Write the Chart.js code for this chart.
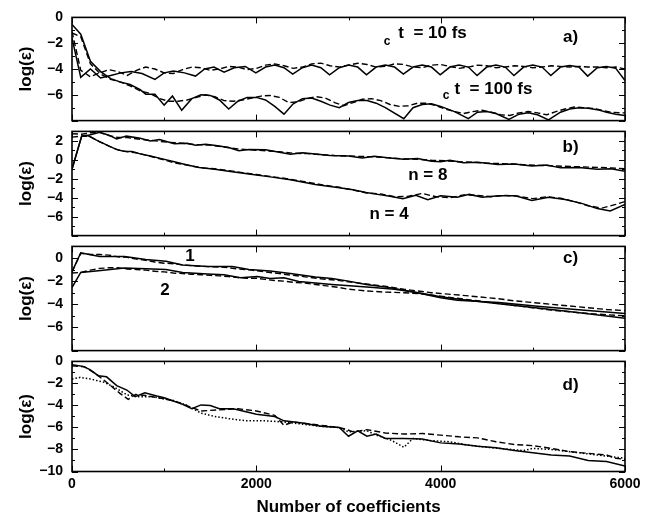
<!DOCTYPE html>
<html>
<head>
<meta charset="utf-8">
<script src="https://cdn.jsdelivr.net/npm/chart.js@4.4.1/dist/chart.umd.min.js"></script>
<style>
  html, body { margin: 0; padding: 0; background: #fff; }
  #wrap { position: relative; width: 650px; height: 518px; overflow: hidden; }
  canvas { position: absolute; left: 0; }
</style>
</head>
<body>
<div id="wrap">
  <canvas id="pa"></canvas>
  <canvas id="pb"></canvas>
  <canvas id="pc"></canvas>
  <canvas id="pd"></canvas>
</div>
<script>
// x axis
const xTicks = [0, 2000, 4000, 6000]

// y tick labels per panel
const yTicksA = [0, -2, -4, -6]
const yTicksB = [2, 0, -2, -4, -6]
const yTicksC = [0, -2, -4, -6]
const yTicksD = [0, -2, -4, -6, -8, -10]

// panel a) : ωc t = 10 fs (upper pair) and 100 fs (lower pair)
const a10Solid = [[0,-1.6],[95,-4.65],[200,-4.0],[310,-4.7],[420,-4.5],[530,-4.3],[640,-4.2],[760,-4.35],[900,-4.8],[1000,-4.3],[1100,-4.15],[1220,-4.3],[1340,-4.55],[1440,-4.0],[1540,-3.85],[1650,-4.25],[1760,-3.9],[1880,-3.8],[1995,-4.3],[2100,-3.85],[2200,-3.7],[2300,-3.9],[2395,-4.4],[2500,-3.9],[2600,-3.7],[2700,-3.9],[2795,-4.45],[2900,-3.9],[3000,-3.7],[3100,-3.85],[3195,-4.45],[3300,-3.85],[3400,-3.7],[3500,-3.85],[3595,-4.4],[3700,-3.85],[3800,-3.7],[3900,-3.85],[3995,-4.45],[4100,-3.85],[4200,-3.7],[4300,-3.85],[4395,-4.5],[4500,-3.85],[4600,-3.7],[4700,-3.85],[4795,-4.5],[4900,-3.85],[5000,-3.7],[5100,-3.85],[5195,-4.5],[5300,-3.85],[5400,-3.72],[5500,-3.85],[5595,-4.55],[5700,-3.9],[5800,-3.8],[5900,-3.95],[6000,-4.9]]
const a10Dash = [[0,-1.1],[95,-4.1],[200,-4.6],[300,-4.3],[400,-4.05],[500,-4.2],[600,-4.5],[700,-4.1],[800,-3.85],[900,-4.0],[1000,-4.3],[1100,-4.35],[1200,-4.05],[1300,-3.85],[1400,-3.9],[1500,-4.1],[1600,-4.0],[1700,-3.8],[1800,-3.85],[1900,-4.05],[2000,-3.95],[2100,-3.7],[2200,-3.6],[2300,-3.75],[2400,-3.95],[2500,-3.85],[2600,-3.6],[2700,-3.55],[2800,-3.75],[2900,-3.85],[3000,-3.7],[3100,-3.55],[3200,-3.65],[3300,-3.85],[3400,-3.8],[3500,-3.6],[3600,-3.65],[3700,-3.85],[3800,-3.9],[3900,-3.7],[4000,-3.65],[4100,-3.8],[4200,-3.95],[4300,-3.85],[4400,-3.7],[4500,-3.75],[4600,-3.9],[4700,-3.85],[4800,-3.75],[4900,-3.8],[5000,-3.9],[5100,-3.85],[5200,-3.75],[5300,-3.8],[5400,-3.85],[5500,-3.8],[5600,-3.85],[5700,-3.85],[5800,-3.9],[5900,-3.85],[6000,-4.0]]
const a100Solid = [[0,-0.55],[95,-1.3],[200,-3.4],[310,-4.2],[420,-4.75],[520,-5.0],[630,-5.2],[740,-5.6],[800,-5.95],[900,-5.95],[1000,-6.8],[1090,-6.1],[1190,-7.2],[1300,-6.3],[1400,-6.0],[1500,-6.05],[1600,-6.4],[1700,-7.1],[1800,-6.5],[1900,-6.2],[2000,-6.2],[2100,-6.4],[2200,-6.9],[2300,-7.5],[2400,-6.7],[2500,-6.3],[2600,-6.25],[2700,-6.5],[2800,-6.8],[2900,-7.0],[3000,-6.6],[3100,-6.45],[3200,-6.45],[3300,-6.65],[3400,-7.0],[3600,-7.85],[3700,-7.0],[3800,-6.75],[3900,-6.7],[4000,-6.9],[4150,-7.3],[4300,-7.85],[4400,-7.35],[4500,-7.3],[4600,-7.45],[4740,-7.9],[4850,-7.5],[4950,-7.4],[5050,-7.55],[5170,-7.95],[5300,-7.35],[5400,-7.1],[5500,-7.0],[5600,-7.05],[5700,-7.15],[5800,-7.35],[5900,-7.5],[6000,-7.6]]
const a100Dash = [[0,-1.2],[95,-1.5],[200,-3.6],[310,-4.4],[420,-4.8],[520,-5.0],[630,-5.3],[740,-5.7],[850,-5.9],[950,-6.3],[1050,-6.5],[1150,-6.5],[1250,-6.4],[1350,-6.2],[1450,-6.0],[1550,-6.15],[1650,-6.45],[1750,-6.5],[1850,-6.4],[1950,-6.25],[2050,-6.1],[2150,-6.05],[2250,-6.2],[2350,-6.6],[2450,-6.55],[2550,-6.3],[2650,-6.15],[2750,-6.25],[2850,-6.6],[2950,-6.85],[3050,-6.6],[3150,-6.35],[3250,-6.3],[3350,-6.45],[3450,-6.75],[3550,-6.9],[3650,-6.85],[3750,-6.65],[3850,-6.65],[3950,-6.85],[4050,-7.1],[4150,-7.3],[4250,-7.45],[4350,-7.3],[4450,-7.2],[4550,-7.35],[4650,-7.55],[4750,-7.6],[4850,-7.4],[4950,-7.3],[5050,-7.4],[5150,-7.55],[5250,-7.3],[5350,-7.1],[5450,-6.95],[5550,-7.0],[5650,-7.05],[5750,-7.2],[5850,-7.35],[5950,-7.4],[6000,-7.4]]

// panel b) : n = 8 and n = 4
const b8Solid = [[0,-1.0],[105,2.5],[160,2.55],[300,2.9],[400,2.6],[484,2.2],[590,2.5],[740,2.28],[850,2.0],[950,2.15],[1110,1.7],[1250,1.75],[1340,1.55],[1450,1.65],[1560,1.5],[1700,1.3],[1810,0.95],[1920,1.1],[2100,1.05],[2250,0.8],[2370,0.6],[2500,0.75],[2640,0.62],[2800,0.45],[3000,0.4],[3150,0.2],[3280,0.38],[3450,0.2],[3600,0.05],[3750,0.15],[3900,-0.15],[4000,-0.2],[4100,-0.05],[4250,-0.3],[4400,-0.25],[4620,-0.5],[4800,-0.45],[4990,-0.65],[5150,-0.55],[5300,-0.85],[5500,-0.8],[5700,-1.0],[5850,-0.95],[6000,-1.2]]
const b8Dash = [[0,2.75],[105,2.7],[200,2.85],[300,2.9],[400,2.55],[500,2.35],[600,2.35],[750,2.15],[900,2.0],[1050,1.85],[1200,1.75],[1350,1.6],[1500,1.55],[1650,1.35],[1800,1.15],[1950,1.05],[2100,0.95],[2250,0.85],[2400,0.7],[2550,0.65],[2700,0.55],[2850,0.45],[3000,0.4],[3150,0.35],[3300,0.3],[3450,0.2],[3600,0.1],[3750,0.05],[3900,-0.05],[4050,-0.1],[4200,-0.2],[4350,-0.25],[4500,-0.35],[4650,-0.4],[4800,-0.45],[4950,-0.55],[5100,-0.6],[5250,-0.65],[5400,-0.7],[5550,-0.75],[5700,-0.8],[5850,-0.85],[6000,-0.95]]
const b4Solid = [[0,-1.0],[105,2.5],[160,2.6],[260,2.1],[380,1.55],[480,1.1],[560,0.9],[650,0.88],[750,0.6],[850,0.4],[980,0.1],[1110,-0.2],[1250,-0.55],[1380,-0.8],[1550,-1.0],[1700,-1.2],[1920,-1.5],[2150,-1.8],[2370,-2.1],[2640,-2.6],[2900,-2.95],[3050,-3.15],[3190,-3.45],[3350,-3.7],[3450,-3.85],[3590,-4.1],[3730,-3.75],[3860,-4.2],[4000,-3.8],[4180,-3.95],[4310,-3.65],[4450,-3.95],[4630,-3.8],[4810,-3.8],[4990,-4.3],[5170,-3.95],[5350,-4.2],[5530,-4.6],[5700,-5.15],[5840,-5.4],[6000,-4.7]]
const b4Dash = [[0,2.4],[105,2.5],[200,2.45],[300,1.9],[400,1.45],[500,1.05],[600,0.85],[700,0.75],[800,0.5],[900,0.25],[1000,0.0],[1100,-0.3],[1250,-0.55],[1400,-0.85],[1550,-0.95],[1700,-1.15],[1850,-1.35],[2000,-1.55],[2150,-1.75],[2300,-1.95],[2450,-2.2],[2600,-2.45],[2750,-2.7],[2900,-2.9],[3050,-3.2],[3200,-3.5],[3350,-3.6],[3500,-3.9],[3650,-3.85],[3800,-3.55],[3950,-3.9],[4100,-4.0],[4250,-3.7],[4400,-3.75],[4550,-3.9],[4700,-3.75],[4850,-3.85],[5000,-4.1],[5150,-3.9],[5300,-4.05],[5450,-4.4],[5600,-4.85],[5750,-5.1],[5900,-4.7],[6000,-4.4]]

// panel c) : curves 1 and 2
const c1Solid = [[0,-1.2],[95,0.45],[160,0.35],[300,0.12],[570,0.12],[800,-0.14],[1020,-0.29],[1200,-0.61],[1470,-0.74],[1740,-0.74],[1920,-1.0],[2150,-1.13],[2370,-1.34],[2640,-1.65],[2820,-1.78],[3000,-2.0],[3190,-2.3],[3450,-2.56],[3720,-2.96],[4000,-3.35],[4180,-3.55],[4630,-3.95],[5080,-4.35],[5530,-4.75],[6000,-5.2]]
const c1Dash = [[0,-1.2],[95,0.4],[200,0.3],[300,0.3],[400,0.25],[500,0.1],[600,0.05],[700,-0.1],[800,-0.2],[900,-0.35],[1000,-0.45],[1100,-0.5],[1200,-0.6],[1350,-0.7],[1500,-0.75],[1650,-0.8],[1800,-0.95],[1950,-1.05],[2100,-1.2],[2250,-1.35],[2400,-1.5],[2550,-1.65],[2700,-1.8],[2850,-1.9],[3000,-2.05],[3150,-2.2],[3300,-2.35],[3450,-2.5],[3600,-2.7],[3750,-2.85],[3900,-3.0],[4050,-3.1],[4200,-3.2],[4400,-3.35],[4600,-3.5],[4800,-3.7],[5000,-3.85],[5200,-4.0],[5400,-4.15],[5600,-4.3],[5800,-4.45],[6000,-4.55]]
const c2Solid = [[0,-2.55],[95,-1.25],[260,-1.13],[570,-0.87],[800,-0.92],[1020,-1.0],[1200,-1.26],[1470,-1.39],[1650,-1.45],[1830,-1.7],[2010,-1.6],[2150,-1.78],[2300,-1.7],[2460,-2.04],[2640,-2.17],[2820,-2.3],[3050,-2.43],[3270,-2.56],[3500,-2.7],[3720,-2.96],[4000,-3.43],[4180,-3.65],[4630,-3.85],[5080,-4.2],[5530,-4.5],[6000,-4.8]]
const c2Dash = [[0,-1.3],[95,-1.25],[200,-1.05],[300,-0.9],[400,-0.85],[500,-0.85],[600,-0.95],[700,-1.0],[800,-1.05],[900,-1.15],[1000,-1.2],[1100,-1.3],[1200,-1.35],[1300,-1.4],[1400,-1.45],[1500,-1.5],[1600,-1.55],[1700,-1.6],[1800,-1.7],[1900,-1.75],[2000,-1.75],[2100,-1.85],[2200,-1.95],[2300,-2.0],[2400,-2.1],[2500,-2.15],[2600,-2.25],[2700,-2.35],[2800,-2.45],[2900,-2.55],[3000,-2.7],[3200,-2.85],[3400,-2.95],[3600,-3.0],[3800,-3.1],[4000,-3.3],[4200,-3.5],[4400,-3.7],[4600,-3.9],[4800,-4.1],[5000,-4.3],[5200,-4.5],[5400,-4.65],[5600,-4.8],[5800,-4.9],[6000,-5.0]]

// panel d) : solid, dashed, dotted
const dSolid = [[0,-0.3],[120,-0.45],[195,-0.75],[285,-1.3],[375,-1.4],[485,-2.2],[595,-2.6],[685,-3.2],[790,-2.85],[920,-3.15],[1000,-3.3],[1100,-3.6],[1200,-3.9],[1300,-4.3],[1400,-3.95],[1500,-4.0],[1600,-4.3],[1750,-4.3],[1900,-4.6],[2000,-4.8],[2200,-5.0],[2300,-5.4],[2500,-5.6],[2700,-5.9],[2900,-6.0],[3000,-6.8],[3100,-6.3],[3200,-6.8],[3300,-6.6],[3400,-7.0],[3600,-7.0],[3800,-7.05],[4000,-7.4],[4200,-7.5],[4400,-7.7],[4600,-7.85],[4800,-8.1],[5000,-8.3],[5200,-8.5],[5400,-8.6],[5600,-9.0],[5800,-9.1],[6000,-9.5]]
const dDash = [[0,-0.4],[140,-0.5],[270,-1.2],[375,-1.9],[520,-2.9],[610,-3.45],[690,-3.0],[800,-3.1],[1000,-3.4],[1150,-3.7],[1300,-4.2],[1400,-4.5],[1600,-4.4],[1800,-4.3],[2000,-4.5],[2200,-4.9],[2300,-5.8],[2400,-5.5],[2600,-5.7],[2800,-5.9],[2950,-6.1],[3050,-6.4],[3200,-6.2],[3400,-6.5],[3600,-6.6],[3800,-6.55],[4000,-6.7],[4200,-6.85],[4400,-6.95],[4600,-7.3],[4800,-7.55],[5000,-7.65],[5200,-7.9],[5400,-8.2],[5600,-8.35],[5800,-8.5],[5900,-8.8],[6000,-8.9]]
const dDot = [[0,-1.6],[90,-1.45],[200,-1.6],[350,-1.9],[460,-2.35],[600,-3.05],[720,-3.2],[870,-3.2],[960,-3.35],[1100,-3.55],[1250,-4.0],[1400,-4.7],[1550,-5.0],[1700,-5.2],[1900,-5.4],[2100,-5.4],[2300,-5.5],[2500,-5.7],[2700,-5.9],[2900,-6.0],[3000,-6.4],[3200,-6.3],[3300,-6.7],[3450,-7.1],[3600,-7.8],[3700,-7.0],[3900,-7.2],[4100,-7.3],[4300,-7.6],[4500,-7.8],[4700,-7.95],[4900,-8.1],[5000,-7.9],[5200,-8.0],[5400,-8.2],[5600,-8.4],[5800,-8.6],[6000,-8.8]]

const FONT = "'Liberation Sans', Arial, Helvetica, sans-serif"
Chart.defaults.font.family = FONT
Chart.defaults.font.weight = 'bold'
Chart.defaults.color = '#000'

const STYLES = {
    solid: {borderWidth: 1.5, borderDash: []},
    dash: {borderWidth: 1.4, borderDash: [6, 3]},
    dot: {borderWidth: 1.5, borderDash: [1.5, 2]}
}

const panels = [
    {id: 'pa', top: 12, bottom: 126, min: -8, max: 0, yTicks: yTicksA,
        series: [[a10Solid, 'solid'], [a10Dash, 'dash'], [a100Solid, 'solid'], [a100Dash, 'dash']],
        notes: [
            {text: 'a)', x: 5410, y: -1.55, size: 17},
            {text: 'c', x: 3420, y: -1.85, size: 12},
            {text: 't  = 10 fs', x: 3540, y: -1.25, size: 17, align: 'left'},
            {text: 'c', x: 4060, y: -6.1, size: 12},
            {text: 't  = 100 fs', x: 4150, y: -5.6, size: 17, align: 'left'}
        ]},
    {id: 'pb', top: 126, bottom: 241, min: -8, max: 3, yTicks: yTicksB,
        series: [[b8Solid, 'solid'], [b8Dash, 'dash'], [b4Solid, 'solid'], [b4Dash, 'dash']],
        notes: [
            {text: 'b)', x: 5410, y: 1.3, size: 17},
            {text: 'n = 8', x: 3860, y: -1.6, size: 17},
            {text: 'n = 4', x: 3440, y: -5.8, size: 17}
        ]},
    {id: 'pc', top: 241, bottom: 356, min: -8, max: 1, yTicks: yTicksC,
        series: [[c1Solid, 'solid'], [c1Dash, 'dash'], [c2Solid, 'solid'], [c2Dash, 'dash']],
        notes: [
            {text: 'c)', x: 5410, y: -0.05, size: 17},
            {text: '1', x: 1280, y: 0.15, size: 17},
            {text: '2', x: 1010, y: -2.75, size: 17}
        ]},
    {id: 'pd', top: 356, bottom: 471.5, min: -10, max: 0, yTicks: yTicksD, last: true,
        series: [[dSolid, 'solid'], [dDash, 'dash'], [dDot, 'dot']],
        notes: [
            {text: 'd)', x: 5410, y: -2.2, size: 17}
        ]}
]

// frame, inward ticks and panel labels
const framePlugin = {
    id: 'frame',
    afterDatasetsDraw(chart, args, opts) {
        const {ctx, chartArea: a, scales: {x, y}} = chart
        ctx.save()
        ctx.strokeStyle = '#000'
        ctx.lineWidth = 1
        ctx.beginPath()
        for (let v = 0; v <= 6000; v += 1000) {
            const px = Math.round(x.getPixelForValue(v)) + 0.5
            const len = v % 2000 === 0 ? 6 : 3
            ctx.moveTo(px, a.top); ctx.lineTo(px, a.top + len)
            ctx.moveTo(px, a.bottom); ctx.lineTo(px, a.bottom - len)
        }
        for (let v = y.min; v <= y.max; v++) {
            const py = Math.round(y.getPixelForValue(v)) + 0.5
            const len = v % 2 === 0 ? 6 : 3
            ctx.moveTo(a.left, py); ctx.lineTo(a.left + len, py)
            ctx.moveTo(a.right, py); ctx.lineTo(a.right - len, py)
        }
        ctx.stroke()
        ctx.lineWidth = 1.6
        ctx.strokeRect(a.left, a.top, a.right - a.left, a.bottom - a.top)
        ctx.fillStyle = '#000'
        ctx.textBaseline = 'middle'
        for (const n of opts.notes) {
            ctx.font = `bold ${n.size}px ${FONT}`
            ctx.textAlign = n.align || 'center'
            ctx.fillText(n.text, x.getPixelForValue(n.x), y.getPixelForValue(n.y))
        }
        ctx.restore()
    }
}

for (const p of panels) {
    const canvas = document.getElementById(p.id)
    const canvasTop = p.top - 12
    const height = p.last ? 518 - canvasTop : (p.bottom - p.top) + 24
    canvas.width = 650
    canvas.height = height
    canvas.style.top = canvasTop + 'px'

    new Chart(canvas, {
        type: 'line',
        data: {
            datasets: p.series.map(([d, s]) => ({
                data: d,
                borderColor: '#000',
                borderWidth: STYLES[s].borderWidth,
                borderDash: STYLES[s].borderDash,
                pointRadius: 0,
                tension: 0,
                fill: false
            }))
        },
        options: {
            responsive: false,
            animation: false,
            devicePixelRatio: 1,
            layout: {padding: {top: 12, right: 25, bottom: p.last ? 0 : 12, left: 0}},
            plugins: {
                legend: {display: false},
                tooltip: {enabled: false},
                frame: {notes: p.notes}
            },
            scales: {
                x: {
                    type: 'linear',
                    min: 0,
                    max: 6000,
                    display: !!p.last,
                    grid: {display: false, drawTicks: false},
                    border: {display: false},
                    afterBuildTicks: (s) => { s.ticks = xTicks.map(v => ({value: v})) },
                    afterFit: (s) => { s.height = p.last ? 46.5 : 0 },
                    ticks: {
                        padding: 4,
                        font: {size: 14, weight: 'bold'},
                        color: '#000',
                        maxRotation: 0,
                        autoSkip: false,
                        callback: (v) => String(v)
                    },
                    title: {
                        display: true,
                        text: 'Number of coefficients',
                        font: {size: 17, weight: 'bold'},
                        color: '#000',
                        padding: {top: 0, bottom: 0}
                    }
                },
                y: {
                    type: 'linear',
                    min: p.min,
                    max: p.max,
                    grid: {display: false, drawTicks: false},
                    border: {display: false},
                    afterBuildTicks: (s) => { s.ticks = p.yTicks.map(v => ({value: v})) },
                    afterFit: (s) => { s.width = 72 },
                    ticks: {
                        padding: 9,
                        font: {size: 14, weight: 'bold'},
                        color: '#000',
                        autoSkip: false,
                        callback: (v) => String(v).replace('-', '\u2212')
                    },
                    title: {
                        display: true,
                        text: 'log(ε)',
                        font: {size: 17, weight: 'bold'},
                        color: '#000',
                        padding: {top: 16, bottom: 0}
                    }
                }
            }
        },
        plugins: [framePlugin]
    })
}
</script>
</body>
</html>
